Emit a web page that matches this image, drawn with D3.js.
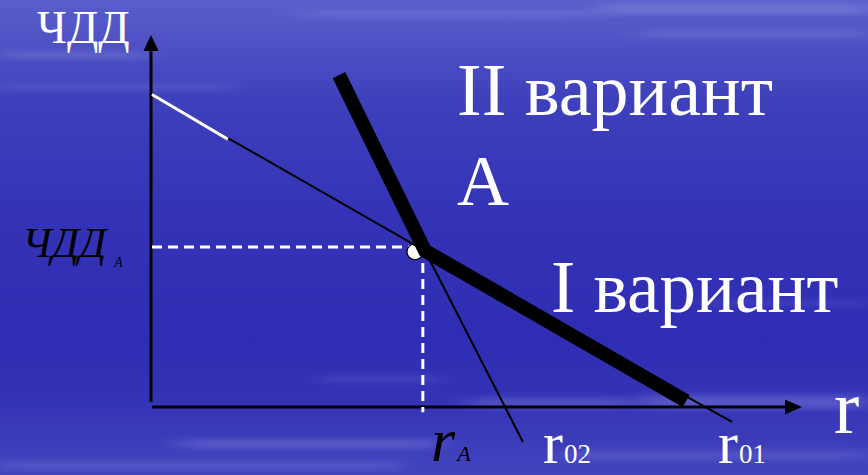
<!DOCTYPE html>
<html>
<head>
<meta charset="utf-8">
<script src="https://cdn.jsdelivr.net/npm/d3@7"></script>
<style>
  html, body { margin: 0; padding: 0; background: #3333b6; overflow: hidden; }
  svg { display: block; }
  text { font-family: "Liberation Serif", "Times New Roman", serif; }
</style>
</head>
<body>
<svg id="chart" width="868" height="475"></svg>
<script>
// ---- data (r in %, NPV in arbitrary units) ----
const pointA_r = 12.6;
const pointA_npv = 42;

const lineI_r   = [0, pointA_r, 26.77];
const lineI_npv = [84, pointA_npv, -4];

const lineIWhite_r   = [0, 3.5];
const lineIWhite_npv = [84, 72];

const lineII_r   = [pointA_r, 17.12];
const lineII_npv = [pointA_npv, -9.4];

const envelope_r   = [8.63, pointA_r, 24.65];
const envelope_npv = [89.2, pointA_npv, 1.6];

const labelsWhite = ["ЧДД", "II вариант", "А", "I вариант", "r"];
const labelR02 = ["r", "02"];
const labelR01 = ["r", "01"];
const labelRA  = ["r", "A"];
const labelNpvA = ["ЧДД", "А"];

// background streaks (decorative)
const bgStreaks = [
  {x: 0,   y: 52,  w: 150, h: 6, o: 0.25},
  {x: 0,   y: 84,  w: 230, h: 5, o: 0.2},
  {x: 600, y: 4,   w: 268, h: 10, o: 0.25},
  {x: 640, y: 30,  w: 228, h: 8, o: 0.18},
  {x: 300, y: 10,  w: 300, h: 8, o: 0.15},
  {x: 180, y: 440, w: 260, h: 8, o: 0.25},
  {x: 470, y: 398, w: 160, h: 10, o: 0.22},
  {x: 640, y: 395, w: 228, h: 14, o: 0.25},
  {x: 320, y: 376, w: 120, h: 6, o: 0.15},
  {x: 0,   y: 460, w: 400, h: 10, o: 0.15},
  {x: 560, y: 450, w: 308, h: 10, o: 0.15},
  {x: 700, y: 300, w: 168, h: 6, o: 0.12}
];

const svg = d3.select("#chart");
const W = 868, H = 475;

const defs = svg.append("defs");
const grad = defs.append("linearGradient").attr("id", "bg").attr("x1", 0).attr("y1", 0).attr("x2", 0).attr("y2", 1);
[["0%", "#5a5ecb"], ["10%", "#4c50c3"], ["22%", "#3d3fbb"], ["45%", "#3433b7"],
 ["72%", "#2f2db3"], ["84%", "#3433b6"], ["100%", "#4244bd"]].forEach(([o, c]) =>
  grad.append("stop").attr("offset", o).attr("stop-color", c));
const blur = defs.append("filter").attr("id", "streak").attr("x", "-20%").attr("y", "-200%").attr("width", "140%").attr("height", "500%");
blur.append("feGaussianBlur").attr("stdDeviation", "14 3");

svg.append("rect").attr("width", W).attr("height", H).attr("fill", "url(#bg)");
svg.append("g").selectAll("rect").data(bgStreaks).join("rect")
  .attr("x", d => d.x).attr("y", d => d.y).attr("width", d => d.w).attr("height", d => d.h)
  .attr("fill", "#b8bcf4").attr("opacity", d => d.o).attr("filter", "url(#streak)");

// ---- scales ----
const x = d3.scaleLinear().domain([0, 30]).range([152, 802]);
const y = d3.scaleLinear().domain([0, 100]).range([407, 35]);

const zip = (rs, vs) => rs.map((r, i) => ({r, npv: vs[i]}));
const line = d3.line().x(d => x(d.r)).y(d => y(d.npv));

// ---- axes ----
const gx = svg.append("g").attr("transform", `translate(0,${y(0)})`)
  .call(d3.axisBottom(x).tickValues([]).tickSizeOuter(0));
gx.select(".domain").attr("stroke", "#000").attr("stroke-width", 3).attr("d", `M${x(0)},0H${x(30) - 12}`);
const gy = svg.append("g").attr("transform", `translate(${x(0) - 1},0)`)
  .call(d3.axisLeft(y).tickValues([]).tickSizeOuter(0));
gy.select(".domain").attr("stroke", "#000").attr("stroke-width", 3).attr("d", `M0,${y(0) - 5}V${y(100) + 12}`);

// arrowheads
svg.append("path").attr("fill", "#000")
  .attr("d", `M${x(30)},${y(0)}L${x(30) - 17},${y(0) - 7.5}L${x(30) - 17},${y(0) + 7.5}Z`);
svg.append("path").attr("fill", "#000")
  .attr("d", `M${x(0) - 1},${y(100)}L${x(0) - 8.5},${y(100) + 16}L${x(0) + 6.5},${y(100) + 16}Z`);

// ---- dashed guides to point A ----
svg.append("path").attr("fill", "none").attr("stroke", "#fff").attr("stroke-width", 3)
  .attr("stroke-dasharray", "10,6")
  .attr("d", line([{r: 0, npv: pointA_npv + 1}, {r: pointA_r - 0.1, npv: pointA_npv + 1}]));
svg.append("path").attr("fill", "none").attr("stroke", "#fff").attr("stroke-width", 3)
  .attr("stroke-dasharray", "10,6")
  .attr("d", line([{r: pointA_r - 0.1, npv: pointA_npv + 1}, {r: pointA_r - 0.1, npv: -1.4}]));

// ---- marker at A ----
svg.append("circle").attr("cx", x(pointA_r) - 10).attr("cy", y(pointA_npv) + 1).attr("r", 8)
  .attr("fill", "#fff").attr("stroke", "#000").attr("stroke-width", 1.2);

// ---- thin NPV lines ----
svg.append("path").attr("fill", "none").attr("stroke", "#000").attr("stroke-width", 2)
  .attr("d", line(zip(lineI_r, lineI_npv)));
svg.append("path").attr("fill", "none").attr("stroke", "#fff").attr("stroke-width", 3)
  .attr("d", line(zip(lineIWhite_r, lineIWhite_npv)));
svg.append("path").attr("fill", "none").attr("stroke", "#000").attr("stroke-width", 2)
  .attr("d", line(zip(lineII_r, lineII_npv)));

// ---- thick envelope ----
svg.append("path").attr("fill", "none").attr("stroke", "#000").attr("stroke-width", 14)
  .attr("stroke-linejoin", "miter").attr("stroke-linecap", "butt")
  .attr("d", line(zip(envelope_r, envelope_npv)));

// ---- texts ----
const wt = (t, px, py, size) => svg.append("text").attr("x", px).attr("y", py)
  .attr("fill", "#fff").attr("font-size", size).text(t);
wt(labelsWhite[0], 37, 43, 46);
wt(labelsWhite[1], 457, 115, 74);
wt(labelsWhite[2], 457, 205, 72);
wt(labelsWhite[3], 551, 312, 73);
wt(labelsWhite[4], 834, 433, 76);

// NPV_A label (italic black)
const tA = svg.append("text").attr("x", 22).attr("y", 257).attr("fill", "#000")
  .attr("font-style", "italic").attr("font-size", 43);
tA.append("tspan").text(labelNpvA[0]);
tA.append("tspan").attr("font-size", 14).attr("dx", 8).attr("dy", 10).text(labelNpvA[1]);

// r_A label
const tr = svg.append("text").attr("x", x(pointA_r) + 6).attr("y", 461).attr("fill", "#000")
  .attr("font-style", "italic").attr("font-size", 62);
tr.append("tspan").text(labelRA[0]);
tr.append("tspan").attr("font-size", 22).attr("dx", 2).text(labelRA[1]);

// r02 / r01 labels
const sub = (lab, px) => {
  const t = svg.append("text").attr("x", px).attr("y", 463).attr("fill", "#fff").attr("font-size", 60);
  t.append("tspan").text(lab[0]);
  t.append("tspan").attr("font-size", 27).attr("dx", 1).text(lab[1]);
};
sub(labelR02, x(lineII_r[1]) + 20);
sub(labelR01, x(lineI_r[2]) - 14);
</script>
</body>
</html>
